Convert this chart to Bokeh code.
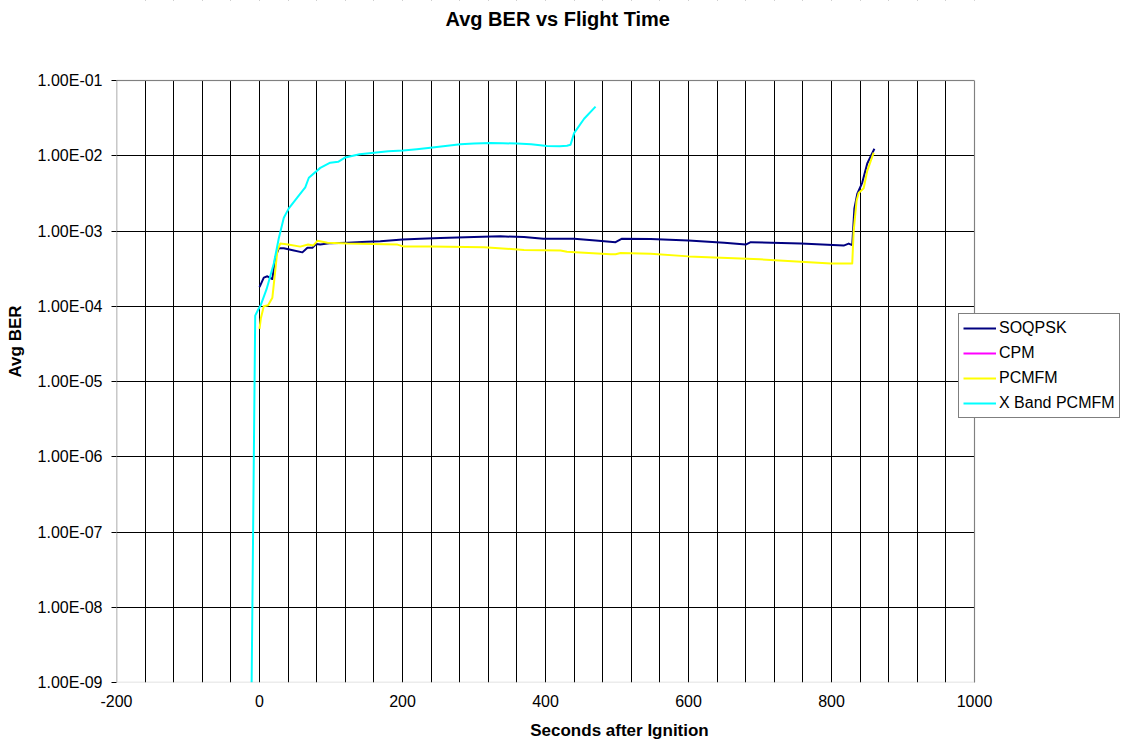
import math
from bokeh.plotting import figure
from bokeh.models import (Range1d, FixedTicker, CustomJSTickFormatter, Legend, LegendItem,
                          Label, BoxAnnotation)
from bokeh.embed import file_html
from bokeh.resources import INLINE

# ---------------- data ----------------
TITLE = "Avg BER vs Flight Time"
X_LABEL = "Seconds after Ignition"
Y_LABEL = "Avg BER"

X_TICKS = [-200, 0, 200, 400, 600, 800, 1000]
X_TICK_LABELS = ["-200", "0", "200", "400", "600", "800", "1000"]
X_GRID_STEP = 40
Y_TICKS = [1e-9, 1e-8, 1e-7, 1e-6, 1e-5, 1e-4, 1e-3, 1e-2, 1e-1]
Y_TICK_LABELS = ["1.00E-09", "1.00E-08", "1.00E-07", "1.00E-06", "1.00E-05",
                 "1.00E-04", "1.00E-03", "1.00E-02", "1.00E-01"]

soqpsk_t = [0, 6, 11, 18, 22, 27, 34, 45, 60, 67, 74, 79, 85, 100, 123, 150, 169, 200, 225,
            253, 300, 337, 370, 397, 421, 440, 470, 498, 507, 547, 600, 650, 680, 687, 757,
            817, 824, 829, 832, 836, 843, 850, 860]
soqpsk_ber = [1.8e-4, 2.4e-4, 2.5e-4, 2.3e-4, 4.4e-4, 5.9e-4, 5.9e-4, 5.6e-4, 5.2e-4, 6.0e-4,
              6.0e-4, 6.7e-4, 6.6e-4, 6.9e-4, 7.0e-4, 7.2e-4, 7.3e-4, 7.7e-4, 7.9e-4,
              8.1e-4, 8.3e-4, 8.5e-4, 8.3e-4, 7.9e-4, 7.9e-4, 7.9e-4, 7.5e-4, 7.1e-4, 7.9e-4,
              7.8e-4, 7.5e-4, 7.0e-4, 6.6e-4, 7.1e-4, 6.8e-4,
              6.4e-4, 6.8e-4, 6.5e-4, 2.0e-3, 3.1e-3, 4.4e-3, 7.9e-3, 1.24e-2]

# CPM has no visible values in the chart (legend entry only)
cpm_t = [float("nan")]
cpm_ber = [float("nan")]

pcmfm_t = [0, 2, 6, 12, 18, 21, 25, 29, 40, 57, 68, 75, 81, 95, 123, 193, 202, 239, 314, 370,
           421, 430, 491, 498, 505, 547, 600, 700, 757, 799, 829, 831, 835, 838, 845, 850, 859]
pcmfm_ber = [5e-5, 7e-5, 1.0e-4, 1.03e-4, 1.3e-4, 2.4e-4, 5.5e-4, 6.8e-4, 6.6e-4, 6.2e-4,
             6.6e-4, 6.4e-4, 7.4e-4, 7.0e-4, 6.8e-4, 6.6e-4, 6.2e-4, 6.2e-4, 6.1e-4, 5.6e-4,
             5.5e-4, 5.3e-4, 4.9e-4, 4.9e-4, 5.1e-4, 5.0e-4, 4.6e-4, 4.2e-4, 3.9e-4, 3.7e-4,
             3.7e-4, 1.0e-3, 2.5e-3, 3.2e-3, 3.7e-3, 6.3e-3, 1.1e-2]

xband_t = [-11, -6, -2, 2, 10, 20, 27, 34, 41, 53, 64, 69, 85, 99, 110, 120, 140, 160, 180,
           201, 220, 239, 260, 281, 300, 323, 340, 360, 380, 402, 420, 430, 435, 440, 454, 470]
xband_ber = [1e-9, 7.5e-5, 9e-5, 1.05e-4, 1.7e-4, 3.7e-4, 8e-4, 1.5e-3, 2.0e-3, 2.8e-3,
             3.8e-3, 5.1e-3, 6.9e-3, 8.1e-3, 8.3e-3, 9.5e-3, 1.05e-2, 1.1e-2, 1.15e-2,
             1.17e-2, 1.22e-2, 1.28e-2, 1.35e-2, 1.42e-2, 1.45e-2, 1.48e-2, 1.47e-2, 1.45e-2,
             1.42e-2, 1.35e-2, 1.34e-2, 1.36e-2, 1.4e-2, 2.0e-2, 3.1e-2, 4.5e-2]

SERIES = [
    ("SOQPSK", soqpsk_t, soqpsk_ber, "#000080"),
    ("CPM", cpm_t, cpm_ber, "#FF00FF"),
    ("PCMFM", pcmfm_t, pcmfm_ber, "#FFFF00"),
    ("X Band PCMFM", xband_t, xband_ber, "#00FFFF"),
]

FONT = "Liberation Sans"

# ---------------- layout geometry ----------------
W, H = 1122, 745
PLOT_L, PLOT_R, PLOT_T, PLOT_B = 116, 974, 80, 682      # plot area in page pixels
X_MIN, X_MAX = X_TICKS[0], X_TICKS[-1]
Y_MIN, Y_MAX = Y_TICKS[0], Y_TICKS[-1]
px_per_x = (PLOT_R - PLOT_L) / (X_MAX - X_MIN)
px_per_dec = (PLOT_B - PLOT_T) / (math.log10(Y_MAX) - math.log10(Y_MIN))
# the canvas frame is extended to the right and top so the legend and title
# (which sit outside the plot area) are not clipped
x_end = X_MAX + (W - PLOT_R) / px_per_x
y_end = 10 ** (math.log10(Y_MAX) + PLOT_T / px_per_dec)

p = figure(width=W, height=H, y_axis_type="log",
           x_range=Range1d(X_MIN, x_end), y_range=Range1d(Y_MIN, y_end),
           output_backend="svg", toolbar_location=None,
           min_border_left=PLOT_L, min_border_right=0, min_border_top=0,
           min_border_bottom=H - PLOT_B)
p.background_fill_color = "white"
p.border_fill_color = "white"
p.outline_line_color = None

renderers = []
for name, xs, ys, col in SERIES:
    r = p.line(xs, ys, line_color=col, line_width=2, line_join="round")
    renderers.append((name, r))

# x axis
p.xaxis.ticker = FixedTicker(ticks=X_TICKS, minor_ticks=[])
p.xaxis.formatter = CustomJSTickFormatter(args=dict(xvals=X_TICKS, xlabels=X_TICK_LABELS), code="""
    const i = xvals.indexOf(Math.round(tick));
    return i >= 0 ? xlabels[i] : '';
""")
p.xaxis.major_tick_out = 0
p.xaxis.major_tick_in = 0
p.xaxis.axis_line_color = None
p.xaxis.major_label_standoff = 12
p.xaxis.axis_label = X_LABEL
p.xaxis.axis_label_standoff = 11

# y axis
p.yaxis.ticker = FixedTicker(ticks=Y_TICKS, minor_ticks=[])
p.yaxis.formatter = CustomJSTickFormatter(args=dict(ylabels=Y_TICK_LABELS), code="""
    const i = Math.round(Math.log10(tick)) + 9;
    return (i >= 0 && i < ylabels.length) ? ylabels[i] : '';
""")
p.yaxis.major_tick_out = 5
p.yaxis.major_tick_in = 0
p.yaxis.axis_line_color = None
p.yaxis.major_tick_line_color = "black"
p.yaxis.major_label_standoff = 9
p.yaxis.axis_label = Y_LABEL
p.yaxis.axis_label_standoff = 10

for ax in (p.xaxis, p.yaxis):
    ax.major_label_text_font = FONT
    ax.major_label_text_font_size = "16px"
    ax.major_label_text_color = "black"
    ax.axis_label_text_font = FONT
    ax.axis_label_text_font_size = "17px"
    ax.axis_label_text_font_style = "bold"
    ax.axis_label_text_color = "black"

# grids: vertical every 40 s, horizontal every decade
p.xgrid.ticker = FixedTicker(ticks=list(range(X_MIN, X_MAX + 1, X_GRID_STEP)))
p.xgrid.grid_line_color = "black"
p.xgrid.grid_line_width = 1
p.ygrid.grid_line_color = "black"
p.ygrid.grid_line_width = 1

# blank out the grid outside the plot area
p.add_layout(BoxAnnotation(left=X_MAX, fill_color="white", fill_alpha=1, line_color=None))
p.add_layout(BoxAnnotation(bottom=Y_MAX, fill_color="white", fill_alpha=1, line_color=None))
# plot area border (gray) with black left axis line
p.add_layout(BoxAnnotation(left=X_MIN, right=X_MAX, bottom=Y_MIN, top=Y_MAX,
                           fill_color=None, line_color="#808080", line_width=1.5))
p.add_layout(BoxAnnotation(left=X_MIN, right=X_MIN, bottom=Y_MIN, top=Y_MAX,
                           fill_color=None, line_color="black", line_width=1.5))

# title
p.add_layout(Label(x=445 - PLOT_L, y=PLOT_B - 18, x_units="screen", y_units="screen",
                   text=TITLE, text_align="left", text_baseline="middle",
                   text_font=FONT, text_font_size="20px", text_font_style="bold",
                   text_color="black"))

# legend
legend = Legend(items=[LegendItem(label=n, renderers=[r]) for n, r in renderers],
                location=(958 - PLOT_L, PLOT_B - 418), orientation="vertical",
                label_text_font=FONT, label_text_font_size="16px", label_text_color="black",
                glyph_width=33, glyph_height=20, label_height=20, label_standoff=3,
                spacing=5, padding=4, margin=0,
                border_line_color="black", border_line_width=1,
                background_fill_color="white", background_fill_alpha=1)
p.add_layout(legend)

open("out.html", "w").write(file_html(p, INLINE))
